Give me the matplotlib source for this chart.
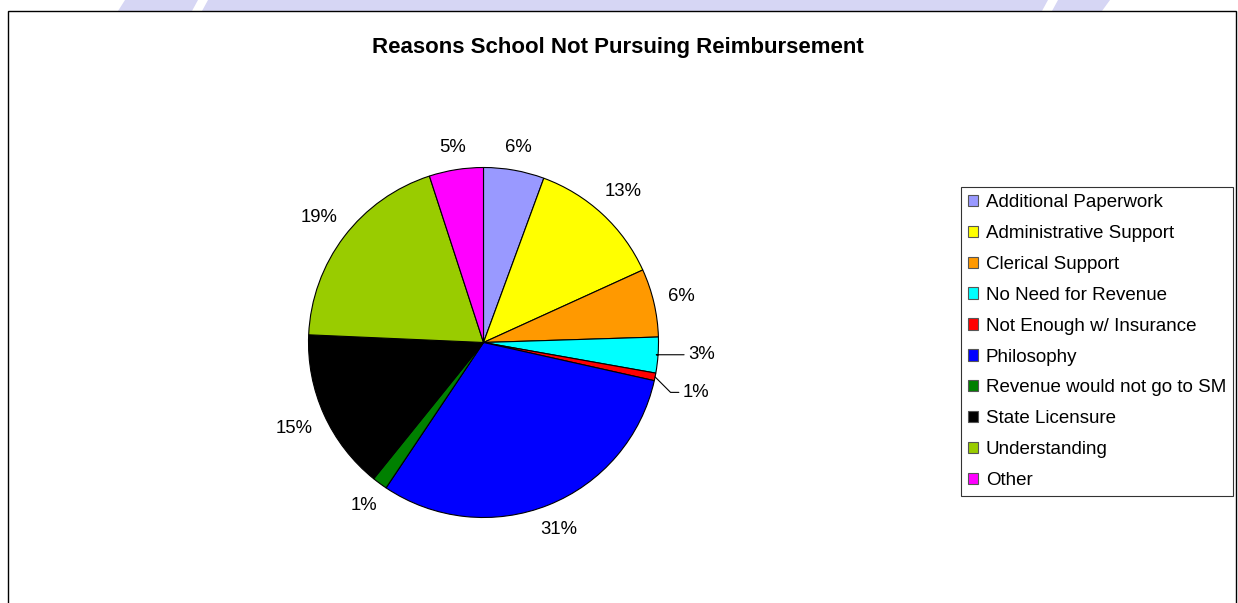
import matplotlib
matplotlib.use('Agg')
import matplotlib.pyplot as plt
from matplotlib.patches import Rectangle, Polygon
import numpy as np

plt.rcParams['font.family'] = ['Liberation Sans', 'DejaVu Sans']

# Survey shares (percent of responses)
categories = [
    'Additional Paperwork',
    'Administrative Support',
    'Clerical Support',
    'No Need for Revenue',
    'Not Enough w/ Insurance',
    'Philosophy',
    'Revenue would not go to SM',
    'State Licensure',
    'Understanding',
    'Other',
]
shares = [5.6, 12.6, 6.3, 3.3, 0.7, 30.9, 1.4, 14.9, 19.3, 5.0]
colors = ['#9999FF', '#FFFF00', '#FF9900', '#00FFFF', '#FF0000',
          '#0000FF', '#008000', '#000000', '#99CC00', '#FF00FF']
# slices too thin for a plain label get a leader line instead
callouts = {'No Need for Revenue': (1.17, -0.07, -12),
            'Not Enough w/ Insurance': (1.14, -0.285, -45)}

W, H = 1238, 603
fig = plt.figure(figsize=(W / 100, H / 100), dpi=100)
fig.patch.set_facecolor('white')

# faint banner strip along the top edge
band = Polygon([(125 / W, 1), (1110 / W, 1), (1102 / W, 1 - 11 / H), (118 / W, 1 - 11 / H)],
               closed=True, transform=fig.transFigure, facecolor='#D6D6F4',
               edgecolor='none', zorder=0)
fig.patches.append(band)
for x0 in (198, 1048):
    gap = Polygon([(x0 / W, 1), ((x0 + 10) / W, 1), ((x0 + 4) / W, 1 - 11 / H), ((x0 - 6) / W, 1 - 11 / H)],
                  closed=True, transform=fig.transFigure, facecolor='white',
                  edgecolor='none', zorder=0)
    fig.patches.append(gap)

# chart area border
frame = Rectangle((8 / W, -0.02), 1228 / W, 1.02 - 11 / H, transform=fig.transFigure,
                  fill=False, edgecolor='black', linewidth=1.0, zorder=1)
fig.patches.append(frame)

fig.text(618 / W, 1 - 47 / H, 'Reasons School Not Pursuing Reimbursement',
         ha='center', va='center', fontsize=16, fontweight='bold')

# pie centre and radius in pixels
cx, cy, r = 483.5, 342.5, 175
ax = fig.add_axes([(cx - r) / W, (H - cy - r) / H, 2 * r / W, 2 * r / H])
wedges, _ = ax.pie(shares, colors=colors, startangle=90, counterclock=False,
                   radius=1, wedgeprops=dict(edgecolor='black', linewidth=0.8))
ax.set_xlim(-1, 1)
ax.set_ylim(-1, 1)
ax.set_aspect('equal')
ax.axis('off')

fig.canvas.draw()
renderer = fig.canvas.get_renderer()
total = sum(shares)
for name, val, w in zip(categories, shares, wedges):
    label = f'{100 * val / total:.0f}%'
    ang = np.deg2rad((w.theta1 + w.theta2) / 2)
    dx, dy = np.cos(ang), np.sin(ang)
    if name in callouts:
        tx, ty, angb = callouts[name]
        ax.annotate(label, xy=(dx, dy), xytext=(tx, ty), ha='left', va='center',
                    fontsize=13.3,
                    arrowprops=dict(arrowstyle='-', color='black', linewidth=0.8,
                                    shrinkA=1, shrinkB=0, relpos=(0, 0.5),
                                    connectionstyle=f'angle,angleA=0,angleB={angb},rad=0'))
        continue
    t = ax.text(0, 0, label, ha='center', va='center', fontsize=13.3)
    bb = t.get_window_extent(renderer)
    hw, hh = bb.width / 2, bb.height / 2
    dist = r + 13 + abs(dx) * hw + abs(dy) * (hh - 1)
    t.set_position((dx * dist / r, dy * dist / r))

handles = [Rectangle((0, 0), 1, 1, facecolor=c, edgecolor='#555555', linewidth=0.8)
           for c in colors]
leg = fig.legend(handles, categories, loc='upper left',
                 bbox_to_anchor=(961 / W, 1 - 187 / H), borderaxespad=0,
                 fontsize=13.5, frameon=True, fancybox=False, shadow=False,
                 handlelength=0.55, handleheight=0.55, handletextpad=0.4,
                 labelspacing=0.74, borderpad=0.38)
leg.get_frame().set_edgecolor('black')
leg.get_frame().set_linewidth(0.8)

fig.savefig('out.png', dpi=100, facecolor='white')
